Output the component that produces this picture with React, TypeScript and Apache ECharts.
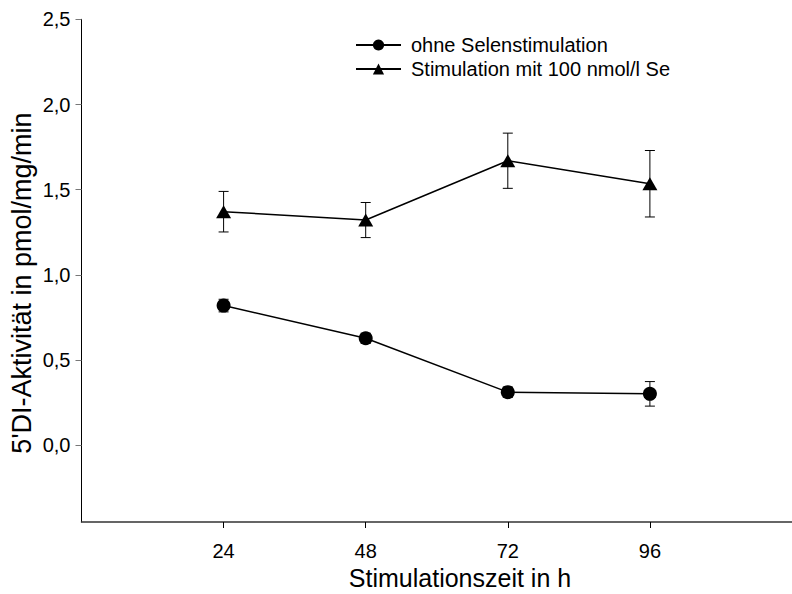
import React, { useEffect, useRef } from "react";
import * as echarts from "echarts";

const times = [24, 48, 72, 96];
const meanControl = [0.82, 0.628, 0.312, 0.302];
const errControl = [0.037, 0.03, 0.03, 0.072];
const meanSe = [1.371, 1.322, 1.67, 1.535];
const errSe = [0.119, 0.103, 0.162, 0.195];
const yTicks = [0, 0.5, 1.0, 1.5, 2.0, 2.5];
const xTicks = [24, 48, 72, 96];
const nameControl = "ohne Selenstimulation";
const nameSe = "Stimulation mit 100 nmol/l Se";
const xTitle = "Stimulationszeit in h";
const yTitle = "5'DI-Aktivität in pmol/mg/min";

const FONT = "Liberation Sans, Arial, sans-serif";

function errorSeries(means: number[], errs: number[]) {
  return {
    type: "custom",
    silent: true,
    z: 1,
    data: times.map((t, i) => [t, means[i] - errs[i], means[i] + errs[i]]),
    renderItem: (params: any, api: any) => {
      const x = api.value(0);
      const lo = api.coord([x, api.value(1)]);
      const hi = api.coord([x, api.value(2)]);
      const hw = 5;
      const style = { stroke: "#000", lineWidth: 1 };
      return {
        type: "group",
        children: [
          { type: "line", shape: { x1: lo[0], y1: lo[1], x2: hi[0], y2: hi[1] }, style },
          { type: "line", shape: { x1: lo[0] - hw, y1: lo[1], x2: lo[0] + hw, y2: lo[1] }, style },
          { type: "line", shape: { x1: hi[0] - hw, y1: hi[1], x2: hi[0] + hw, y2: hi[1] }, style },
        ],
      };
    },
  };
}

export default function App() {
  const ref = useRef<HTMLDivElement>(null);
  useEffect(() => {
    const chart = echarts.init(ref.current!, null, { renderer: "svg" });
    chart.setOption({
      animation: false,
      textStyle: { fontFamily: FONT },
      grid: { left: 81.5, top: 19.3, width: 720, height: 502.7 },
      legend: {
        orient: "vertical",
        left: 355,
        top: 35,
        padding: 0,
        itemWidth: 45,
        itemHeight: 14,
        itemGap: 4,
        textStyle: { fontSize: 20, color: "#000", fontFamily: FONT, padding: [0, 0, 0, 5] },
        data: [nameControl, nameSe],
      },
      xAxis: {
        type: "value",
        min: 0,
        max: 120,
        splitLine: { show: false },
        axisLine: { onZero: false, lineStyle: { color: "#333", width: 1.5 } },
        axisTick: { show: true, length: 6, lineStyle: { color: "#000" }, customValues: xTicks },
        axisLabel: { fontSize: 20, color: "#000", margin: 19, customValues: xTicks, fontFamily: FONT },
      },
      yAxis: {
        type: "value",
        min: -0.45,
        max: 2.5,
        splitLine: { show: false },
        axisLine: { show: true, onZero: false, lineStyle: { color: "#000", width: 1 } },
        axisTick: { show: true, length: 6, lineStyle: { color: "#777" }, customValues: yTicks },
        axisLabel: {
          fontSize: 20,
          color: "#000",
          margin: 11,
          customValues: yTicks,
          fontFamily: FONT,
          formatter: (v: number) => v.toFixed(1).replace(".", ","),
        },
      },
      graphic: [
        {
          type: "text",
          x: 460,
          y: 578,
          style: {
            text: xTitle,
            font: `25px ${FONT}`,
            fill: "#000",
            align: "center",
            verticalAlign: "middle",
          },
        },
        {
          type: "text",
          x: 22,
          y: 283,
          rotation: Math.PI / 2,
          style: {
            text: yTitle,
            font: `27px ${FONT}`,
            fill: "#000",
            align: "center",
            verticalAlign: "middle",
          },
        },
      ],
      series: [
        errorSeries(meanControl, errControl),
        errorSeries(meanSe, errSe),
        {
          name: nameControl,
          type: "line",
          data: times.map((t, i) => [t, meanControl[i]]),
          symbol: "circle",
          symbolSize: 14,
          itemStyle: { color: "#000" },
          lineStyle: { color: "#000", width: 1.5 },
          z: 3,
        },
        {
          name: nameSe,
          type: "line",
          data: times.map((t, i) => [t, meanSe[i]]),
          symbol: "triangle",
          symbolSize: [15, 13],
          itemStyle: { color: "#000" },
          lineStyle: { color: "#000", width: 1.5 },
          z: 3,
        },
      ],
    });
    return () => chart.dispose();
  }, []);
  return <div ref={ref} style={{ width: 792, height: 594, position: "absolute", left: 0, top: 0 }} />;
}
